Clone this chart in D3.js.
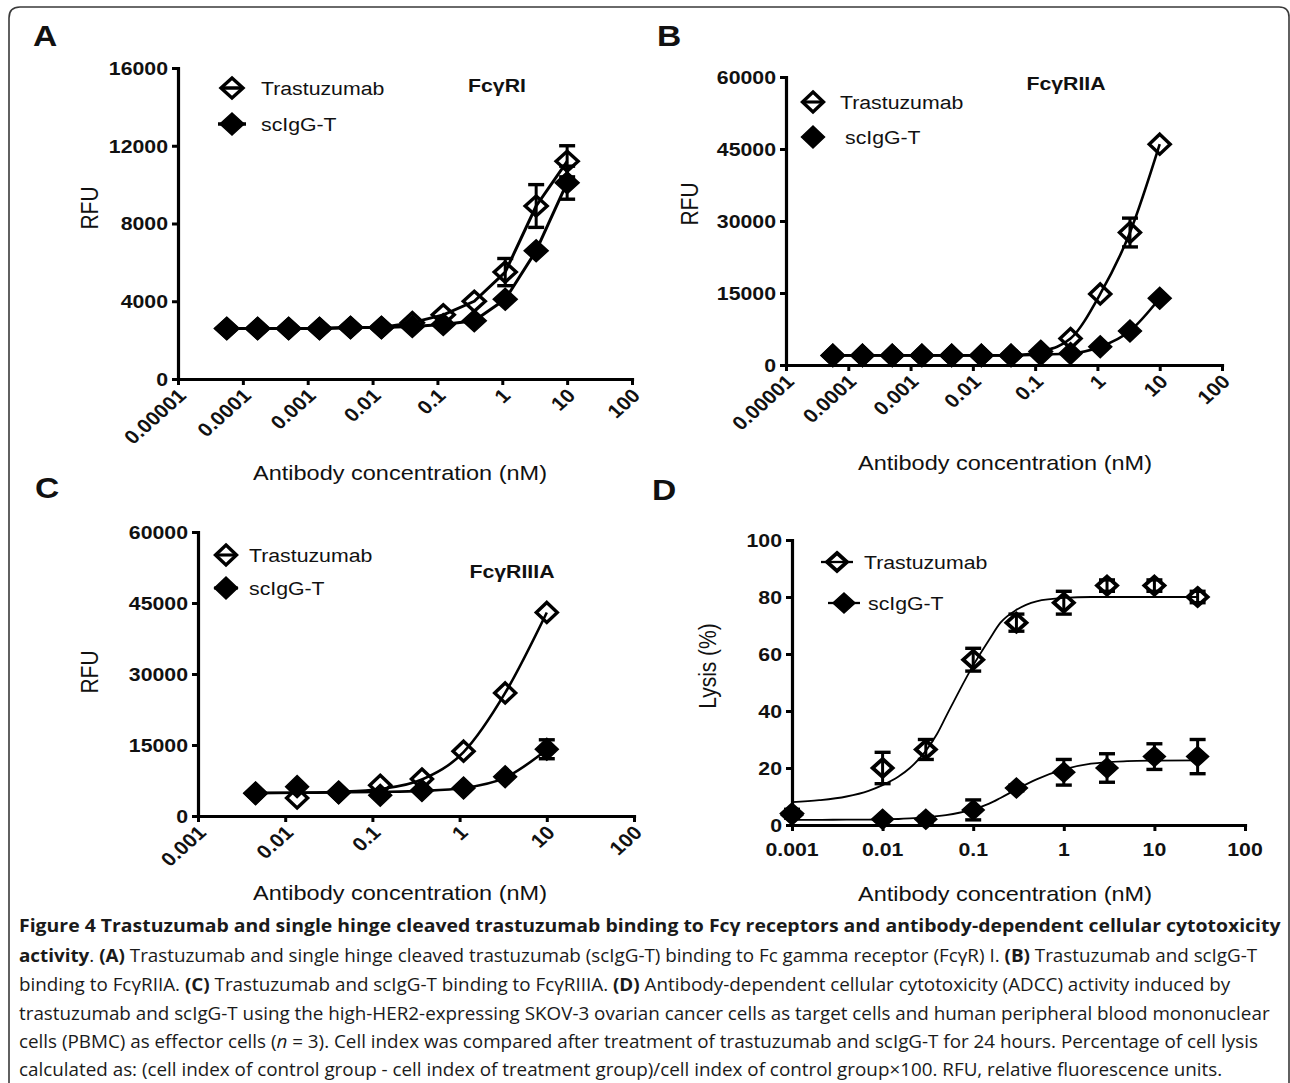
<!DOCTYPE html>
<html><head><meta charset="utf-8">
<script src="https://cdn.jsdelivr.net/npm/d3@7"></script>
<style>
body{margin:0;background:#fff}
svg text{font-family:"Liberation Sans",Arial,Helvetica,sans-serif;fill:#111}
</style>
</head><body>
<svg id="fig" width="1290" height="1083"></svg>
<script>
// ---------------- DATA ----------------
// Panels A and B: 3-fold serial dilutions (nM)
const concAB = [0.0000565, 0.000169, 0.000508, 0.00152, 0.00457, 0.0137, 0.041, 0.123, 0.37, 1.11, 3.33, 10];
const aTras    = [2600, 2600, 2600, 2600, 2650, 2650, 2900, 3300, 4000, 5500, 8900, 11200];
const aTrasErr = [0, 0, 0, 0, 0, 0, 0, 0, 0, 700, 1100, 800];
const aSc      = [2600, 2600, 2600, 2600, 2650, 2650, 2700, 2800, 3000, 4100, 6600, 10100];
const aScErr   = [0, 0, 0, 0, 0, 0, 0, 0, 0, 0, 0, 850];

const bTras    = [2000, 2000, 2000, 2000, 2000, 2000, 2000, 2800, 5500, 14800, 27600, 46000];
const bTrasErr = [0, 0, 0, 0, 0, 0, 0, 0, 0, 0, 3000, 0];
const bSc      = [2000, 2000, 2000, 2000, 2000, 2000, 2000, 2200, 2400, 3800, 7100, 13900];
const bScErr   = [0, 0, 0, 0, 0, 0, 0, 0, 0, 0, 0, 0];

// Panel C
const concC    = [0.00457, 0.0137, 0.041, 0.123, 0.37, 1.11, 3.33, 10];
const cTras    = [4800, 3800, 5000, 6500, 7800, 13700, 26000, 43000];
const cSc      = [4800, 6200, 4900, 4400, 5400, 5900, 8300, 14100];
const cScErr   = [0, 0, 0, 0, 0, 0, 0, 2000];
const cFitTras = [4800, 4900, 5100, 5700, 7700, 13500, 26000, 43000];
const cFitSc   = [4900, 4900, 5000, 5100, 5300, 5900, 8100, 14000];

// Panel D (ADCC)
const concD    = [0.001, 0.01, 0.03, 0.1, 0.3, 1, 3, 10, 30];
const dTras    = [4, 20, 26.5, 58, 71, 78, 84, 84, 80];
const dTrasErr = [1.5, 5.5, 3.5, 4, 3, 4, 2, 2, 2];
const dSc      = [3.5, 2, 2, 5.3, 13, 18.5, 20, 24, 24];
const dScErr   = [1, 0.5, 1, 3.5, 1, 4.5, 5, 4.5, 6];
const fitConcD = [0.001, 0.002, 0.004, 0.007, 0.01, 0.015, 0.02, 0.03, 0.04, 0.05, 0.07, 0.1, 0.15, 0.2, 0.3, 0.5, 1, 2, 5, 10, 30];
const dFitTras = [8, 8.7, 10, 12, 14, 17, 20, 26, 32, 38, 47, 56, 65, 71, 75.5, 78.5, 79.7, 80, 80, 80, 80];
const dFitSc   = [1.8, 1.8, 1.9, 1.9, 2, 2.1, 2.3, 2.7, 3.1, 3.5, 4.3, 5.5, 7.5, 9.5, 12.5, 16, 19.5, 21.5, 22.4, 22.6, 22.7];

// Ticks
const xTicksWide   = [0.00001, 0.0001, 0.001, 0.01, 0.1, 1, 10, 100];
const xLabelsWide  = ["0.00001", "0.0001", "0.001", "0.01", "0.1", "1", "10", "100"];
const xTicksNarrow = [0.001, 0.01, 0.1, 1, 10, 100];
const xLabelsNarrow= ["0.001", "0.01", "0.1", "1", "10", "100"];
const yTicksA  = [0, 4000, 8000, 12000, 16000];
const yTicksBC = [0, 15000, 30000, 45000, 60000];
const yTicksD  = [0, 20, 40, 60, 80, 100];

const seriesNames = ["Trastuzumab", "scIgG-T"];
const xTitle = "Antibody concentration (nM)";

// ---------------- DRAWING ----------------
const SX = 1.12; // horizontal stretch of the original figure
const svg = d3.select('#fig');

// frame
svg.append('path')
  .attr('d', 'M9,1083 L9,18 Q9,7 20,7 L1279,7 Q1289,7 1289,17 L1289,1083')
  .attr('fill', 'none').attr('stroke', '#3a3a3a').attr('stroke-width', 1.6);

function txt(g, x, y, s, o) {
  o = o || {};
  const t = g.append('text')
    .attr('transform', `translate(${x},${y}) scale(${SX},1)` + (o.rot !== undefined ? ` rotate(${o.rot})` : ''))
    .attr('text-anchor', o.anchor || 'start')
    .attr('font-size', o.size || 19)
    .attr('font-weight', o.bold ? 'bold' : 'normal')
    .text(s);
  if (o.dy) t.attr('dy', o.dy);
  return t;
}

function diamond(cx, cy, rx, ry) {
  return `M${cx},${cy - ry}L${cx + rx},${cy}L${cx},${cy + ry}L${cx - rx},${cy}Z`;
}

function panel(cfg) {
  const g = svg.append('g');
  const x = d3.scaleLog().domain(cfg.xDomain).range([cfg.left, cfg.right]);
  const y = d3.scaleLinear().domain(cfg.yDomain).range([cfg.bottom, cfg.top]);

  const gx = g.append('g').attr('transform', `translate(0,${cfg.bottom})`)
    .call(d3.axisBottom(x).tickValues(cfg.xTicks).tickSize(6).tickSizeOuter(0).tickFormat(''));
  const gy = g.append('g').attr('transform', `translate(${cfg.left},0)`)
    .call(d3.axisLeft(y).tickValues(cfg.yTicks).tickSize(6).tickSizeOuter(0).tickFormat(''));
  [gx, gy].forEach(a => {
    a.select('.domain').attr('stroke', '#000').attr('stroke-width', 3.2).attr('stroke-linecap', 'square');
    a.selectAll('.tick line').attr('stroke', '#000').attr('stroke-width', 3);
  });

  cfg.yTicks.forEach(v => txt(g, cfg.left - 10, y(v), String(v), { anchor: 'end', bold: true, size: 19, dy: '0.36em' }));
  cfg.xTicks.forEach((v, i) => {
    if (cfg.rotate) txt(g, x(v) + 4, cfg.bottom + 13, cfg.xLabels[i], { anchor: 'end', bold: true, size: 19, rot: -45, dy: '0.36em' });
    else txt(g, x(v), cfg.bottom + 31, cfg.xLabels[i], { anchor: 'middle', bold: true, size: 19 });
  });

  txt(g, cfg.xTitlePos[0], cfg.xTitlePos[1], xTitle, { anchor: 'middle', size: 21 });
  txt(g, cfg.yTitlePos[0], cfg.yTitlePos[1], cfg.yTitle, { anchor: 'middle', size: 21, rot: -90, dy: '0.36em' });
  if (cfg.title) txt(g, cfg.titlePos[0], cfg.titlePos[1], cfg.title, { anchor: 'middle', bold: true, size: 19 });
  txt(g, cfg.letterPos[0], cfg.letterPos[1], cfg.letter, { bold: true, size: 30 });

  const line = d3.line().x(d => x(d[0])).y(d => y(d[1])).curve(cfg.curve);
  cfg.series.forEach(s => {
    g.append('path').datum(s.fitX.map((c, i) => [c, s.fitY[i]]))
      .attr('d', line).attr('fill', 'none').attr('stroke', '#000').attr('stroke-width', cfg.lw)
      .attr('stroke-linejoin', 'round');
  });
  cfg.series.forEach(s => {
    s.x.forEach((c, i) => {
      const e = s.err[i];
      if (!e) return;
      const cx = x(c), y1 = y(s.y[i] - e), y2 = y(s.y[i] + e), cw = cfg.cap;
      g.append('line').attr('x1', cx).attr('x2', cx).attr('y1', y1).attr('y2', y2).attr('stroke', '#000').attr('stroke-width', 3);
      [y1, y2].forEach(yy => g.append('line').attr('x1', cx - cw).attr('x2', cx + cw).attr('y1', yy).attr('y2', yy).attr('stroke', '#000').attr('stroke-width', 3.4));
    });
  });
  cfg.series.forEach(s => {
    const rx = s.filled ? cfg.rx : cfg.rx - 1, ry = s.filled ? cfg.ry : cfg.ry - 1;
    s.x.forEach((c, i) => {
      g.append('path').attr('d', diamond(x(c), y(s.y[i]), rx, ry))
        .attr('fill', s.filled ? '#000' : 'none').attr('stroke', '#000')
        .attr('stroke-width', s.filled ? 1.5 : cfg.ow).attr('stroke-linejoin', 'miter');
    });
  });

  cfg.legend.forEach((L, k) => {
    const s = cfg.series[k];
    const rx = s.filled ? cfg.rx : cfg.rx - 1, ry = s.filled ? cfg.ry : cfg.ry - 1;
    g.append('line').attr('x1', L.mx - L.half).attr('x2', L.mx + L.half).attr('y1', L.my).attr('y2', L.my)
      .attr('stroke', '#000').attr('stroke-width', cfg.lw + 0.5);
    g.append('path').attr('d', diamond(L.mx, L.my, rx, ry))
      .attr('fill', s.filled ? '#000' : 'none').attr('stroke', '#000')
      .attr('stroke-width', s.filled ? 1.5 : cfg.ow);
    txt(g, L.tx, L.my + 7, seriesNames[k], { size: 19 });
  });
}

// Panel A
panel({
  letter: 'A', letterPos: [33, 46],
  xDomain: [1e-5, 100], yDomain: [0, 16000], left: 178, right: 632, top: 68, bottom: 379,
  xTicks: xTicksWide, xLabels: xLabelsWide, yTicks: yTicksA, rotate: true,
  xTitlePos: [400, 480], yTitlePos: [90, 208], yTitle: 'RFU',
  title: 'FcγRI', titlePos: [497, 92],
  curve: d3.curveLinear, lw: 3, rx: 12, ry: 11, ow: 3.4, cap: 8,
  series: [
    { x: concAB, y: aTras, err: aTrasErr, fitX: concAB, fitY: aTras, filled: false },
    { x: concAB, y: aSc, err: aScErr, fitX: concAB, fitY: aSc, filled: true }
  ],
  legend: [ { mx: 232, my: 88, half: 10, tx: 261 }, { mx: 232, my: 124, half: 14, tx: 261 } ]
});

// Panel B
panel({
  letter: 'B', letterPos: [657, 46],
  xDomain: [1e-5, 100], yDomain: [0, 60000], left: 786, right: 1222, top: 77, bottom: 365,
  xTicks: xTicksWide, xLabels: xLabelsWide, yTicks: yTicksBC, rotate: true,
  xTitlePos: [1005, 470], yTitlePos: [690, 204], yTitle: 'RFU',
  title: 'FcγRIIA', titlePos: [1066, 90],
  curve: d3.curveMonotoneX, lw: 2.6, rx: 11.5, ry: 11, ow: 3.4, cap: 8,
  series: [
    { x: concAB, y: bTras, err: bTrasErr, fitX: concAB, fitY: bTras, filled: false },
    { x: concAB, y: bSc, err: bScErr, fitX: concAB, fitY: bSc, filled: true }
  ],
  legend: [ { mx: 813, my: 102, half: 10, tx: 840 }, { mx: 813, my: 137, half: 0, tx: 845 } ]
});

// Panel C
panel({
  letter: 'C', letterPos: [35, 498],
  xDomain: [0.001, 100], yDomain: [0, 60000], left: 198, right: 634, top: 532, bottom: 816,
  xTicks: xTicksNarrow, xLabels: xLabelsNarrow, yTicks: yTicksBC, rotate: true,
  xTitlePos: [400, 900], yTitlePos: [90, 672], yTitle: 'RFU',
  title: 'FcγRIIIA', titlePos: [512, 578],
  curve: d3.curveMonotoneX, lw: 2.6, rx: 11.5, ry: 11, ow: 3.4, cap: 8,
  series: [
    { x: concC, y: cTras, err: [0,0,0,0,0,0,0,0], fitX: concC, fitY: cFitTras, filled: false },
    { x: concC, y: cSc, err: cScErr, fitX: concC, fitY: cFitSc, filled: true }
  ],
  legend: [ { mx: 226, my: 555, half: 10, tx: 249 }, { mx: 226, my: 588, half: 12, tx: 249 } ]
});

// Panel D
panel({
  letter: 'D', letterPos: [652, 500],
  xDomain: [0.001, 100], yDomain: [0, 100], left: 792, right: 1245, top: 540, bottom: 825,
  xTicks: xTicksNarrow, xLabels: xLabelsNarrow, yTicks: yTicksD, rotate: false,
  xTitlePos: [1005, 901], yTitlePos: [708, 666], yTitle: 'Lysis (%)',
  title: null,
  curve: d3.curveMonotoneX, lw: 1.8, rx: 11, ry: 10, ow: 3.8, cap: 8,
  series: [
    { x: concD, y: dTras, err: dTrasErr, fitX: fitConcD, fitY: dFitTras, filled: false },
    { x: concD, y: dSc, err: dScErr, fitX: fitConcD, fitY: dFitSc, filled: true }
  ],
  legend: [ { mx: 837, my: 562, half: 16, tx: 864 }, { mx: 844, my: 603, half: 16, tx: 868 } ]
});

// ---------------- CAPTION ----------------
const capLines = [
  [["Figure 4 Trastuzumab and single hinge cleaved trastuzumab binding to Fcγ receptors and antibody-dependent cellular cytotoxicity", "b"]],
  [["activity", "b"], [". ", ""], ["(A)", "b"], [" Trastuzumab and single hinge cleaved trastuzumab (scIgG-T) binding to Fc gamma receptor (FcγR) I. ", ""], ["(B)", "b"], [" Trastuzumab and scIgG-T", ""]],
  [["binding to FcγRIIA. ", ""], ["(C)", "b"], [" Trastuzumab and scIgG-T binding to FcγRIIIA. ", ""], ["(D)", "b"], [" Antibody-dependent cellular cytotoxicity (ADCC) activity induced by", ""]],
  [["trastuzumab and scIgG-T using the high-HER2-expressing SKOV-3 ovarian cancer cells as target cells and human peripheral blood mononuclear", ""]],
  [["cells (PBMC) as effector cells (", ""], ["n", "i"], [" = 3). Cell index was compared after treatment of trastuzumab and scIgG-T for 24 hours. Percentage of cell lysis", ""]],
  [["calculated as: (cell index of control group - cell index of treatment group)/cell index of control group×100. RFU, relative fluorescence units.", ""]]
];
const capBase  = [932, 962, 991, 1020, 1048, 1076];
const capLeft = 19;
const titleRight = 1281, refRight = 1271; // right ends of line 1 and of line 4
const capTexts = capLines.map((segs, i) => {
  const t = svg.append('text').attr('x', 0).attr('y', 0)
    .style('font-family', '"Open Sans", "Noto Sans", sans-serif').attr('font-size', 18).style('fill', '#1a1a1a');
  segs.forEach(([s, st]) => {
    const sp = t.append('tspan').text(s);
    if (st === 'b') sp.attr('font-weight', 'bold');
    if (st === 'i') sp.attr('font-style', 'italic');
  });
  return t;
});
const kBody = (refRight - capLeft) / capTexts[3].node().getComputedTextLength();
const kTitle = (titleRight - capLeft) / capTexts[0].node().getComputedTextLength();
capTexts.forEach((t, i) => {
  const k = i === 0 ? kTitle : kBody;
  t.attr('transform', `translate(${capLeft},${capBase[i]}) scale(${k},1)`);
});
</script>
</body></html>
